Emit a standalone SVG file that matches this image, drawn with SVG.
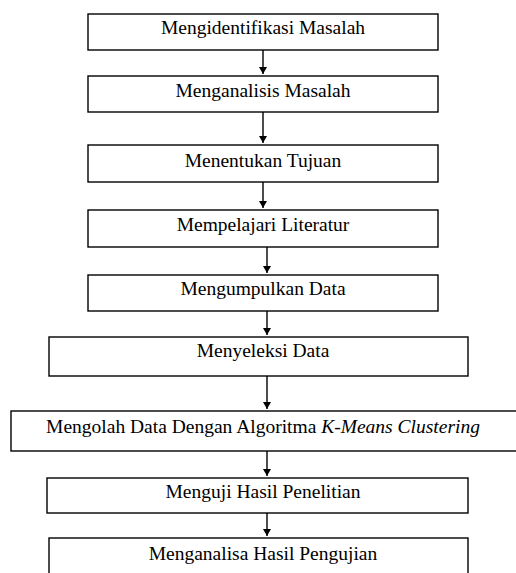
<svg xmlns="http://www.w3.org/2000/svg" width="516" height="573" viewBox="0 0 516 573">
<style>
.box{fill:#fff;stroke:#000;stroke-width:1.4}
.t{font-family:"Liberation Serif","Times New Roman",serif;font-size:19.5px;fill:#000;text-anchor:middle}
.c{stroke:#000;stroke-width:1.4;fill:none}
</style>
<defs>
<marker id="ah" markerWidth="10" markerHeight="10" refX="7" refY="4" orient="auto" markerUnits="userSpaceOnUse">
<path d="M0,0 L7,4 L0,8 Z" fill="#000"/>
</marker>
</defs>
<rect width="516" height="573" fill="#fff"/>
<g id="connectors">
<line class="c" x1="263" y1="50" x2="263" y2="74" marker-end="url(#ah)"/>
<line class="c" x1="263" y1="112" x2="263" y2="143" marker-end="url(#ah)"/>
<line class="c" x1="263" y1="182" x2="263" y2="208" marker-end="url(#ah)"/>
<line class="c" x1="267" y1="247" x2="267" y2="273" marker-end="url(#ah)"/>
<line class="c" x1="267" y1="311" x2="267" y2="335" marker-end="url(#ah)"/>
<line class="c" x1="267" y1="376" x2="267" y2="409" marker-end="url(#ah)"/>
<line class="c" x1="267" y1="451" x2="267" y2="476" marker-end="url(#ah)"/>
<line class="c" x1="267" y1="513" x2="267" y2="536" marker-end="url(#ah)"/>
</g>
<g id="n1"><rect class="box" x="88" y="14" width="350" height="36"/><text class="t" x="263" y="34">Mengidentifikasi Masalah</text></g>
<g id="n2"><rect class="box" x="88" y="76" width="350" height="36"/><text class="t" x="263" y="97">Menganalisis Masalah</text></g>
<g id="n3"><rect class="box" x="88" y="145" width="350" height="37"/><text class="t" x="263" y="167">Menentukan Tujuan</text></g>
<g id="n4"><rect class="box" x="88" y="210" width="350" height="37"/><text class="t" x="263" y="231">Mempelajari Literatur</text></g>
<g id="n5"><rect class="box" x="88" y="275" width="350" height="36"/><text class="t" x="263" y="295">Mengumpulkan Data</text></g>
<g id="n6"><rect class="box" x="49" y="337" width="419" height="39"/><text class="t" x="263" y="357">Menyeleksi Data</text></g>
<g id="n7"><rect class="box" x="11" y="411" width="510" height="40"/><text class="t" x="263" y="433">Mengolah Data Dengan Algoritma <tspan font-style="italic">K-Means Clustering</tspan></text></g>
<g id="n8"><rect class="box" x="47" y="478" width="421" height="35"/><text class="t" x="263" y="498">Menguji Hasil Penelitian</text></g>
<g id="n9"><rect class="box" x="49" y="538" width="419" height="45"/><text class="t" x="263" y="560">Menganalisa Hasil Pengujian</text></g>
</svg>
